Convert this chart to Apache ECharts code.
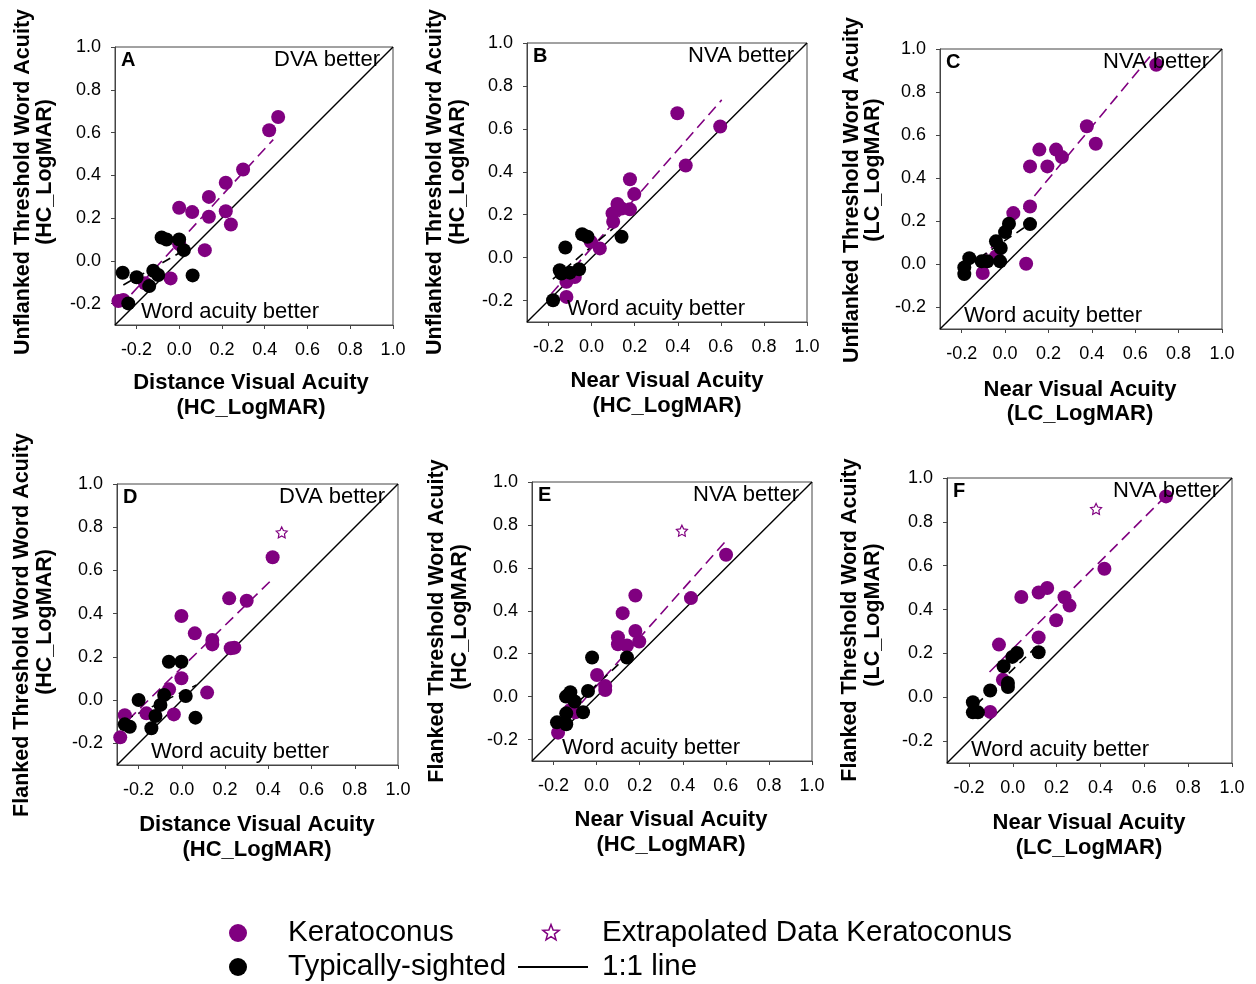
<!DOCTYPE html>
<html>
<head>
<meta charset="utf-8">
<script src="https://cdn.jsdelivr.net/npm/echarts@6/dist/echarts.min.js"></script>
<style>
  html, body { margin: 0; padding: 0; background: #fff; }
  #chart { width: 1256px; height: 984px; }
</style>
</head>
<body>
<div id="chart"></div>
<script>
// ---- shared axis values ----
const tickValues = [-0.2, 0.0, 0.2, 0.4, 0.6, 0.8, 1.0];
const axisMin = -0.3;
const axisMax = 1.0;
const identityLine = [[-0.3, -0.3], [1.0, 1.0]];

// ---- Panel A: unflanked word acuity vs distance VA (HC) ----
const keratoconusA = [[0.463,0.673],[0.421,0.611],[0.299,0.427],[0.218,0.365],[0.139,0.299],[0.0,0.248],[0.061,0.228],[0.139,0.206],[0.218,0.232],[0.242,0.170],[0.0,0.078],[0.120,0.050],[-0.040,-0.082],[-0.160,-0.105],[-0.284,-0.188],[-0.261,-0.183]];
const typicalA = [[-0.264,-0.056],[-0.199,-0.077],[-0.140,-0.118],[-0.121,-0.046],[-0.098,-0.066],[-0.082,0.109],[-0.059,0.100],[0.0,0.100],[0.022,0.050],[0.063,-0.068],[-0.238,-0.199]];
const fitKeratoconusA = [[-0.277,-0.214],[0.440,0.567]];
const fitTypicalA = [[-0.261,-0.113],[0.019,0.047]];

// ---- Panel B: unflanked word acuity vs near VA (HC) ----
const keratoconusB = [[0.398,0.673],[0.597,0.611],[0.437,0.429],[0.178,0.365],[0.198,0.296],[0.120,0.250],[0.097,0.206],[0.139,0.229],[0.178,0.225],[0.100,0.167],[-0.004,0.074],[0.038,0.043],[-0.078,-0.090],[-0.117,-0.113],[-0.117,-0.183]];
const typicalB = [[-0.179,-0.199],[-0.122,0.047],[-0.148,-0.059],[-0.140,-0.074],[-0.101,-0.070],[-0.058,-0.054],[-0.044,0.109],[-0.019,0.097],[0.139,0.097]];
const fitKeratoconusB = [[-0.187,-0.168],[0.604,0.735]];
const fitTypicalB = [[-0.180,-0.100],[0.140,0.170]];

// ---- Panel C: unflanked word acuity vs near VA (LC) ----
const keratoconusC = [[0.697,0.927],[0.377,0.641],[0.418,0.560],[0.158,0.533],[0.235,0.533],[0.262,0.498],[0.115,0.455],[0.195,0.455],[0.115,0.269],[0.038,0.238],[-0.042,0.037],[-0.103,-0.040],[0.097,0.003]];
const typicalC = [[0.115,0.187],[0.018,0.189],[0.0,0.150],[-0.042,0.107],[-0.020,0.076],[-0.023,0.014],[-0.082,0.014],[-0.108,0.014],[-0.165,0.029],[-0.188,-0.014],[-0.188,-0.045]];
const fitKeratoconusC = [[-0.115,0.014],[0.669,0.966]];
const fitTypicalC = [[-0.177,-0.009],[0.115,0.189]];

// ---- Panel D: flanked word acuity vs distance VA (HC) ----
const keratoconusD = [[0.420,0.661],[0.219,0.471],[0.300,0.460],[-0.002,0.389],[0.060,0.309],[0.141,0.278],[0.141,0.258],[0.226,0.240],[0.243,0.243],[-0.002,0.101],[-0.059,0.050],[0.117,0.035],[-0.164,-0.061],[-0.037,-0.066],[-0.264,-0.070],[-0.285,-0.172]];
const extrapolatedD = [[0.462,0.776]];
const typicalD = [[-0.060,0.178],[-0.002,0.178],[-0.200,0.001],[-0.082,0.024],[0.018,0.019],[-0.099,-0.022],[-0.122,-0.073],[-0.141,-0.130],[0.063,-0.081],[-0.264,-0.112],[-0.241,-0.123]];
const fitKeratoconusD = [[-0.249,-0.092],[0.423,0.564]];
const fitTypicalD = [[-0.264,-0.092],[0.068,0.070]];

// ---- Panel E: flanked word acuity vs near VA (HC) ----
const keratoconusE = [[0.601,0.661],[0.438,0.459],[0.180,0.471],[0.121,0.389],[0.180,0.306],[0.099,0.277],[0.099,0.244],[0.141,0.238],[0.198,0.257],[0.002,0.101],[0.040,0.050],[0.040,0.031],[-0.122,-0.062],[-0.099,-0.073],[-0.179,-0.168]];
const extrapolatedE = [[0.396,0.773]];
const typicalE = [[-0.021,0.182],[0.141,0.182],[-0.040,0.026],[-0.122,0.020],[-0.142,0.0],[-0.102,-0.023],[-0.063,-0.073],[-0.141,-0.078],[-0.184,-0.120],[-0.141,-0.129]];
const fitKeratoconusE = [[-0.176,-0.148],[0.601,0.726]];
const fitTypicalE = [[-0.184,-0.117],[0.141,0.187]];

// ---- Panel F: flanked word acuity vs near VA (LC) ----
const keratoconusF = [[0.699,0.916],[0.418,0.586],[0.039,0.457],[0.118,0.478],[0.157,0.498],[0.236,0.456],[0.259,0.418],[0.198,0.351],[0.118,0.273],[-0.063,0.240],[-0.045,0.080],[-0.103,-0.067]];
const extrapolatedF = [[0.380,0.859]];
const typicalF = [[0.118,0.205],[0.019,0.202],[-0.002,0.184],[-0.042,0.141],[-0.022,0.065],[-0.022,0.047],[-0.103,0.031],[-0.182,-0.023],[-0.182,-0.069],[-0.159,-0.069]];
const fitKeratoconusF = [[-0.106,0.115],[0.699,0.919]];
const fitTypicalF = [[-0.166,-0.034],[0.118,0.240]];

// ---- text ----
const panelLetters = ['A', 'B', 'C', 'D', 'E', 'F'];
const betterLabels = ['DVA better', 'NVA better', 'NVA better', 'DVA better', 'NVA better', 'NVA better'];
const wordBetterLabel = 'Word acuity better';
const yTitles = [
  ['Unflanked Threshold Word Acuity', '(HC_LogMAR)'],
  ['Unflanked Threshold Word Acuity', '(HC_LogMAR)'],
  ['Unflanked Threshold Word Acuity', '(LC_LogMAR)'],
  ['Flanked Threshold Word Word Acuity', '(HC_LogMAR)'],
  ['Flanked Threshold Word Acuity', '(HC_LogMAR)'],
  ['Flanked Threshold Word Acuity', '(LC_LogMAR)']
];
const xTitles = [
  ['Distance Visual Acuity', '(HC_LogMAR)'],
  ['Near Visual Acuity', '(HC_LogMAR)'],
  ['Near Visual Acuity', '(LC_LogMAR)'],
  ['Distance Visual Acuity', '(HC_LogMAR)'],
  ['Near Visual Acuity', '(HC_LogMAR)'],
  ['Near Visual Acuity', '(LC_LogMAR)']
];
const legendLabels = ['Keratoconus', 'Extrapolated Data Keratoconus', 'Typically-sighted', '1:1 line'];

// ---- layout (pixels) ----
const grids = [
  { left: 115, top: 47,  width: 278, height: 278 },
  { left: 527, top: 43,  width: 280, height: 279 },
  { left: 940, top: 49,  width: 282, height: 280 },
  { left: 117, top: 484, width: 281, height: 281 },
  { left: 532, top: 482, width: 280, height: 279 },
  { left: 947, top: 478, width: 285, height: 285 }
];
// [line1 x, line1 centre y, line2 x, line2 centre y]
const yTitlePos = [
  [23, 182, 45, 172],
  [435, 182, 458, 172],
  [852, 190, 873, 170],
  [22, 625, 45, 622],
  [437, 621, 460, 617],
  [850, 620, 873, 615]
];
// [centre x, line1 y, line2 y]
const xTitlePos = [
  [251, 383, 408],
  [667, 381, 406],
  [1080, 390, 414],
  [257, 825, 850],
  [671, 820, 845],
  [1089, 823, 848]
];
// word-acuity label left offset inside each plot
const wordLabelOffset = [26, 40, 24, 34, 30, 24];

const PURPLE = '#800080';
const FONT = "'Liberation Sans', Arial, sans-serif";
const STAR = 'path://M0,-10L2.94,-4.05L9.51,-3.09L4.76,1.55L5.88,8.09L0,5L-5.88,8.09L-4.76,1.55L-9.51,-3.09L-2.94,-4.05Z';

const panelData = [
  { k: keratoconusA, t: typicalA, e: null,          fk: fitKeratoconusA, ft: fitTypicalA },
  { k: keratoconusB, t: typicalB, e: null,          fk: fitKeratoconusB, ft: fitTypicalB },
  { k: keratoconusC, t: typicalC, e: null,          fk: fitKeratoconusC, ft: fitTypicalC },
  { k: keratoconusD, t: typicalD, e: extrapolatedD, fk: fitKeratoconusD, ft: fitTypicalD },
  { k: keratoconusE, t: typicalE, e: extrapolatedE, fk: fitKeratoconusE, ft: fitTypicalE },
  { k: keratoconusF, t: typicalF, e: extrapolatedF, fk: fitKeratoconusF, ft: fitTypicalF }
];

const fmt = v => v.toFixed(1);

function makeAxis(i, isX) {
  return {
    type: 'value',
    gridIndex: i,
    min: axisMin,
    max: axisMax,
    splitLine: { show: false },
    axisLine: { show: true, onZero: false, lineStyle: { color: '#444', width: 1 } },
    axisTick: { show: true, length: 4, inside: false, customValues: tickValues, lineStyle: { color: '#444' } },
    axisLabel: {
      customValues: tickValues,
      formatter: fmt,
      color: '#000',
      fontFamily: FONT,
      fontSize: 18,
      margin: isX ? 16 : 14
    }
  };
}

const option = {
  animation: false,
  backgroundColor: '#fff',
  grid: grids.map(g => Object.assign({ show: true, borderColor: '#444', borderWidth: 1, backgroundColor: 'transparent', containLabel: false }, g)),
  xAxis: grids.map((g, i) => makeAxis(i, true)),
  yAxis: grids.map((g, i) => makeAxis(i, false)),
  series: [],
  graphic: []
};

panelData.forEach((p, i) => {
  const common = { xAxisIndex: i, yAxisIndex: i, silent: true };
  option.series.push(Object.assign({
    type: 'line', data: identityLine, symbol: 'none', z: 1,
    lineStyle: { color: '#000', width: 1.4 }
  }, common));
  option.series.push(Object.assign({
    type: 'line', data: p.fk, symbol: 'none', z: 2,
    lineStyle: { color: PURPLE, width: 1.6, type: [11, 6] }
  }, common));
  option.series.push(Object.assign({
    type: 'line', data: p.ft, symbol: 'none', z: 2,
    lineStyle: { color: '#000', width: 1.6, type: [9, 6] }
  }, common));
  option.series.push(Object.assign({
    type: 'scatter', data: p.k, symbol: 'circle', symbolSize: 14, z: 3,
    itemStyle: { color: PURPLE, opacity: 1 }
  }, common));
  option.series.push(Object.assign({
    type: 'scatter', data: p.t, symbol: 'circle', symbolSize: 14, z: 4,
    itemStyle: { color: '#000', opacity: 1 }
  }, common));
  if (p.e) {
    option.series.push(Object.assign({
      type: 'scatter', data: p.e, symbol: STAR, symbolSize: 11, z: 4,
      itemStyle: { color: '#fff', borderColor: PURPLE, borderWidth: 1.2, opacity: 1 }
    }, common));
  }

  const g = grids[i];
  // panel letter, corner labels
  option.graphic.push({
    type: 'text', x: g.left + 6, y: g.top + 13, z: 10,
    style: { text: panelLetters[i], font: `bold 20px ${FONT}`, fill: '#000', textVerticalAlign: 'middle' }
  });
  option.graphic.push({
    type: 'text', x: g.left + g.width - 13, y: g.top + 13, z: 10,
    style: { text: betterLabels[i], font: `22px ${FONT}`, fill: '#000', textAlign: 'right', textVerticalAlign: 'middle' }
  });
  option.graphic.push({
    type: 'text', x: g.left + wordLabelOffset[i], y: g.top + g.height - 13, z: 10,
    style: { text: wordBetterLabel, font: `22px ${FONT}`, fill: '#000', textVerticalAlign: 'middle' }
  });
  // y-axis title, two rotated lines
  const yp = yTitlePos[i];
  option.graphic.push({
    type: 'text', x: yp[0], y: yp[1], rotation: Math.PI / 2,
    style: { text: yTitles[i][0], font: `bold 21.5px ${FONT}`, fill: '#000', textAlign: 'center', textVerticalAlign: 'middle' }
  });
  option.graphic.push({
    type: 'text', x: yp[2], y: yp[3], rotation: Math.PI / 2,
    style: { text: yTitles[i][1], font: `bold 21.5px ${FONT}`, fill: '#000', textAlign: 'center', textVerticalAlign: 'middle' }
  });
  // x-axis title, two lines
  const xp = xTitlePos[i];
  option.graphic.push({
    type: 'text', x: xp[0], y: xp[1],
    style: { text: xTitles[i][0], font: `bold 22px ${FONT}`, fill: '#000', textAlign: 'center', textVerticalAlign: 'middle' }
  });
  option.graphic.push({
    type: 'text', x: xp[0], y: xp[2],
    style: { text: xTitles[i][1], font: `bold 22px ${FONT}`, fill: '#000', textAlign: 'center', textVerticalAlign: 'middle' }
  });
});

// ---- key ----
function starPoints(cx, cy, rOuter, rInner) {
  const pts = [];
  for (let k = 0; k < 10; k++) {
    const r = k % 2 === 0 ? rOuter : rInner;
    const a = -Math.PI / 2 + k * Math.PI / 5;
    pts.push([cx + r * Math.cos(a), cy + r * Math.sin(a)]);
  }
  return pts;
}
const legendFont = `29.5px ${FONT}`;
option.graphic.push(
  { type: 'circle', shape: { cx: 238, cy: 933, r: 9 }, style: { fill: PURPLE } },
  { type: 'text', x: 288, y: 933, style: { text: legendLabels[0], font: legendFont, fill: '#000', textVerticalAlign: 'middle' } },
  { type: 'polygon', shape: { points: starPoints(551, 933, 8.5, 3.6) }, style: { fill: '#fff', stroke: PURPLE, lineWidth: 1.5 } },
  { type: 'text', x: 602, y: 933, style: { text: legendLabels[1], font: legendFont, fill: '#000', textVerticalAlign: 'middle' } },
  { type: 'circle', shape: { cx: 238, cy: 967, r: 9 }, style: { fill: '#000' } },
  { type: 'text', x: 288, y: 967, style: { text: legendLabels[2], font: legendFont, fill: '#000', textVerticalAlign: 'middle' } },
  { type: 'line', shape: { x1: 518, y1: 967, x2: 588, y2: 967 }, style: { stroke: '#000', lineWidth: 2 } },
  { type: 'text', x: 602, y: 967, style: { text: legendLabels[3], font: legendFont, fill: '#000', textVerticalAlign: 'middle' } }
);

const chart = echarts.init(document.getElementById('chart'), null, { renderer: 'canvas', width: 1256, height: 984 });
chart.setOption(option);
</script>
</body>
</html>
